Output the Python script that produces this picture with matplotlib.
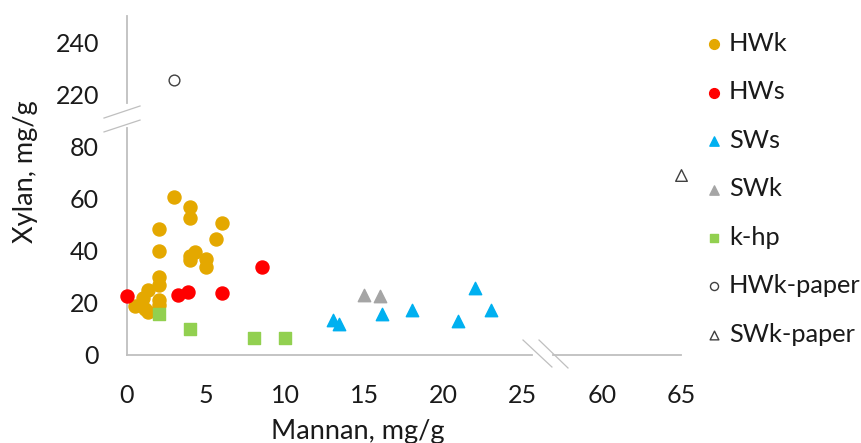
# -*- coding: utf-8 -*-

import numpy as np
import matplotlib
matplotlib.use("Agg")
import matplotlib.pyplot as plt

plt.rcParams['font.family'] = ['Lato', 'DejaVu Sans']

# mannan / xylan content, mg/g
hwk_x = [3, 4, 4, 6, 2, 5.6, 2, 4.3, 4, 4, 5, 5, 2, 2, 1.3, 1, 0.5, 1.15, 1.35, 2, 2]
hwk_y = [60.7, 56.8, 52.4, 50.7, 48.5, 44.6, 39.7, 39.6, 38, 36.6, 37, 33.9, 29.8, 26.7, 25.1, 21.8, 18.7, 17.5, 16.5, 21, 19]

hws_x = [0, 3.2, 3.85, 6, 8.5]
hws_y = [22.6, 22.9, 24.1, 23.7, 33.9]

sws_x = [13.0, 13.4, 16.1, 18.0, 22.0, 23.0, 20.9]
sws_y = [13.4, 11.9, 15.7, 17.4, 25.8, 17.4, 12.9]

swk_x = [15.0, 16.0]
swk_y = [23.1, 22.6]

khp_x = [2, 4, 8, 10]
khp_y = [15.9, 9.8, 6.7, 6.7]

hwk_paper_x = [3]
hwk_paper_y = [225.5]

swk_paper_x = [65]
swk_paper_y = [69]

x_ticks = [0, 5, 10, 15, 20, 25, 60, 65]
y_ticks = [0, 20, 40, 60, 80, 220, 240]


# broken axes: squeeze out 27..57 on x and 90..210 on y
def fwd_x(v):
    v = np.asarray(v, dtype=float)
    return np.minimum(v, 27) + np.maximum(v - 57, 0)

def inv_x(t):
    t = np.asarray(t, dtype=float)
    return np.where(t <= 27, t, t + 30)

def fwd_y(v):
    v = np.asarray(v, dtype=float)
    return np.minimum(v, 90) + np.maximum(v - 210, 0)

def inv_y(t):
    t = np.asarray(t, dtype=float)
    return np.where(t <= 90, t, t + 120)


fig = plt.figure(figsize=(8.62, 4.43), dpi=100)
ax = fig.add_axes([127/862, 88/443, 554/862, 339/443])
ax.set_xscale('function', functions=(fwd_x, inv_x))
ax.set_yscale('function', functions=(fwd_y, inv_y))

pts = dict(zorder=3, clip_on=False)
ax.scatter(hwk_x, hwk_y, s=88, marker='o', color='#E4A800', label='HWk', **pts)
ax.scatter(hws_x, hws_y, s=88, marker='o', color='#FF0000', label='HWs', **pts)
ax.scatter(sws_x, sws_y, s=80, marker='^', color='#00B0F0', label='SWs', **pts)
ax.scatter(swk_x, swk_y, s=80, marker='^', color='#A5A5A5', label='SWk', **pts)
ax.scatter(khp_x, khp_y, s=74, marker='s', color='#92D050', label='k-hp', **pts)
ax.scatter(hwk_paper_x, hwk_paper_y, s=60, marker='o', facecolor='white',
           edgecolor='#404040', linewidth=1, label='HWk-paper', **pts)
ax.scatter(swk_paper_x, swk_paper_y, s=70, marker='^', facecolor='white',
           edgecolor='#404040', linewidth=1, label='SWk-paper', **pts)

ax.set_xlim(0, 65)
ax.set_ylim(0, 250)
ax.set_xticks(x_ticks)
ax.set_yticks(y_ticks)
ax.minorticks_off()
ax.tick_params(length=0, labelsize=18, colors='#1a1a1a')
ax.tick_params(axis='x', pad=21)
ax.tick_params(axis='y', pad=20)

for sp in ax.spines.values():
    sp.set_visible(False)

# axis lines with gaps, plus the break marks
axc = '#BFBFBF'
kw = dict(transform=ax.transAxes, clip_on=False, color=axc)
ax.plot([0, 0.7306], [0, 0], lw=1.3, **kw)
ax.plot([0.7686, 1], [0, 0], lw=1.3, **kw)
ax.plot([0, 0], [0, 0.6696], lw=1.3, **kw)
ax.plot([0, 0], [0.7434, 1], lw=1.3, **kw)
ax.plot([-0.0415, 0.0235], [0.699, 0.7345], lw=0.9, **kw)
ax.plot([-0.0415, 0.0235], [0.658, 0.693], lw=0.9, **kw)
ax.plot([0.7148, 0.767], [0.0442, -0.0354], lw=0.9, **kw)
ax.plot([0.7437, 0.796], [0.0442, -0.0383], lw=0.9, **kw)

ax.set_xlabel('Mannan, mg/g', fontsize=19.5, color='#1a1a1a')
ax.xaxis.label.set_va('baseline')
ax.xaxis.set_label_coords(0.417, -0.2478)
ax.set_ylabel('Xylan, mg/g', fontsize=19.5, color='#1a1a1a')
ax.yaxis.label.set_va('baseline')
ax.yaxis.set_label_coords(-0.1697, 0.54)

fig.legend(loc='upper left', bbox_to_anchor=(703/862, 1 - 32/443),
           frameon=False, fontsize=18.3, markerscale=0.75, scatterpoints=1,
           handlelength=0.9, handletextpad=0.12, labelspacing=1.0,
           borderpad=0, borderaxespad=0, labelcolor='#1a1a1a')

fig.savefig('out.png', dpi=100)
